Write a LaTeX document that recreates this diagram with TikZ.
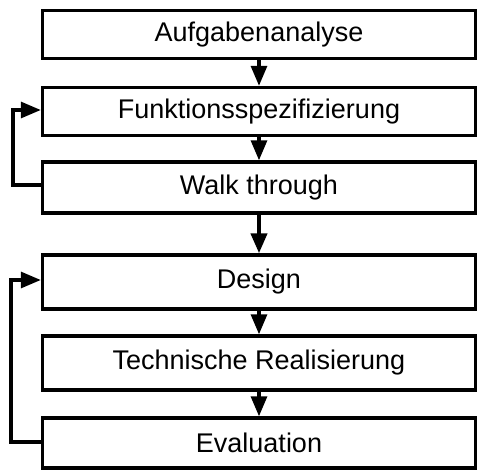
\documentclass[tikz,border=0pt]{standalone}
\usepackage{fontspec}
\setmainfont{Liberation Sans}
\usetikzlibrary{arrows.meta}
\begin{document}
\begin{tikzpicture}[x=1pt,y=-1pt,
  stepbox/.style={draw,line width=3.4pt,minimum width=433pt,inner sep=0pt,font=\fontsize{27}{30}\selectfont},
  conn/.style={line width=3.2pt,-{Triangle[length=20pt,width=16pt]}}]
\useasboundingbox (0,0) rectangle (479,470);
\node[stepbox,minimum height=48pt] (a) at (259,34.5) {Aufgabenanalyse};
\node[stepbox,minimum height=48pt] (b) at (259,111.5) {Funktionsspezifizierung};
\node[stepbox,minimum height=51pt] (c) at (259,187.5) {Walk through};
\node[stepbox,minimum height=54pt] (d) at (259,282) {Design};
\node[stepbox,minimum height=54pt] (e) at (259,363) {Technische Realisierung};
\node[stepbox,minimum height=50pt] (f) at (259,443) {Evaluation};
\draw[conn] (a) -- (b);
\draw[conn] (b) -- (c);
\draw[conn,line width=4.2pt] (c) -- (d);
\draw[conn] (d) -- (e);
\draw[conn] (e) -- (f);
\draw[conn] (c.west |- 0,185) -| (13,110) -- (b.west |- 0,110);
\draw[conn] (f.west |- 0,442) -| (11,280) -- (d.west |- 0,280);
\end{tikzpicture}
\end{document}
